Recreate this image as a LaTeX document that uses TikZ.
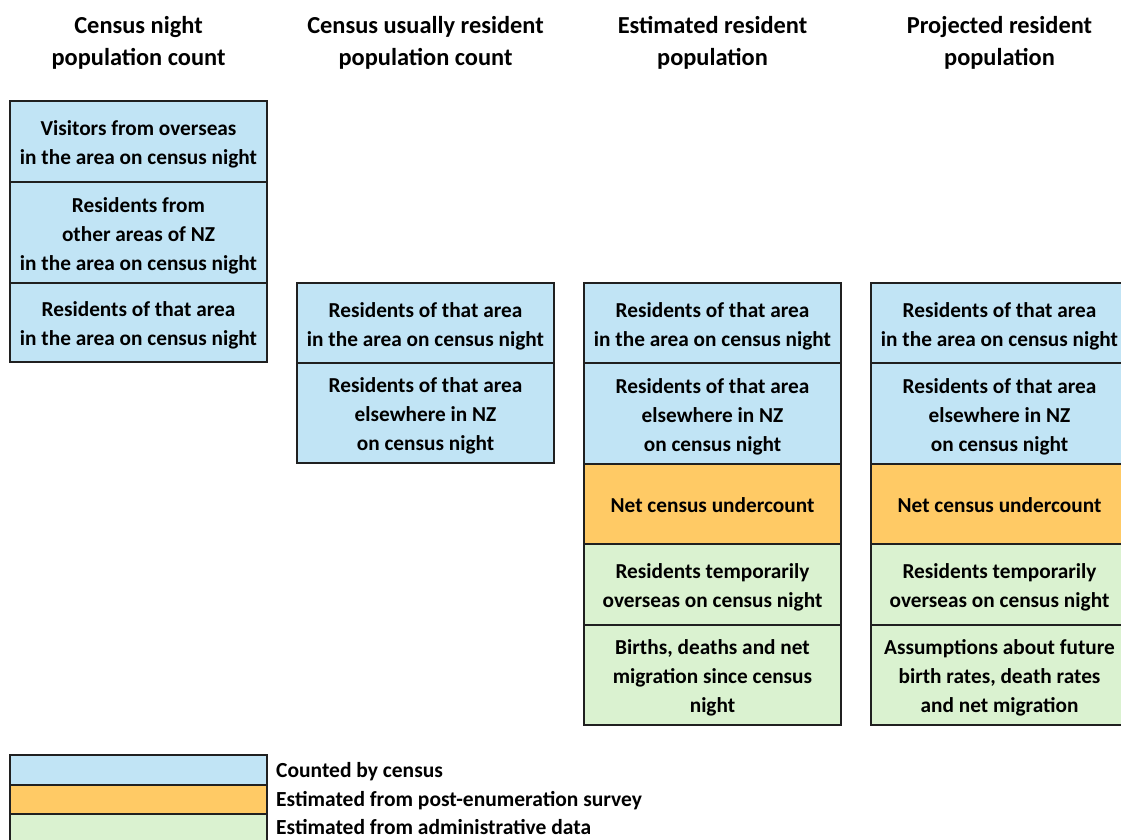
\documentclass[tikz,border=0pt]{standalone}
\usepackage{fontspec}
\setmainfont{Carlito}
\definecolor{cblue}{HTML}{C1E4F5}
\definecolor{corange}{HTML}{FFCA65}
\definecolor{cgreen}{HTML}{DAF2D0}
\definecolor{cline}{HTML}{202020}
\newcommand{\mycell}[7]{%
  \node[cell, fill=#5, minimum height=#4pt] (#1) at (#2,#3) {};
  \node[celltext] (#1t) at ([yshift=-#7pt]#1.center) {#6};}
\begin{document}
\begin{tikzpicture}[x=1pt,y=-1pt,
  cell/.style={draw=cline, line width=1.3pt, minimum width=257pt, inner sep=0pt},
  celltext/.style={inner sep=0pt, align=center,
    font=\bfseries\fontsize{21.3}{29}\selectfont, text=black},
  title/.style={align=center, font=\bfseries\fontsize{24.4}{32}\selectfont, text=black},
  legtext/.style={anchor=west, inner sep=0pt, font=\bfseries\fontsize{21.5}{29}\selectfont, text=black}]
\useasboundingbox (0,0) rectangle (1121,839);
\clip (0,0) rectangle (1121,839);
% titles
\node[title] (t1) at (138.5,42.5) {Census night\\population count};
\node[title] (t2) at (425.5,42.5) {Census usually resident\\population count};
\node[title] (t3) at (712.5,42.5) {Estimated resident\\population};
\node[title] (t4) at (999.5,42.5) {Projected resident\\population};
% column 1
\mycell{a1}{138.5}{141.5}{81}{cblue}{Visitors from overseas\\in the area on census night}{3}
\mycell{a2}{138.5}{232.5}{101}{cblue}{Residents from\\other areas of NZ\\in the area on census night}{3}
\mycell{a3}{138.5}{322.5}{79}{cblue}{Residents of that area\\in the area on census night}{3}
% column 2
\mycell{b1}{425.5}{323}{80}{cblue}{Residents of that area\\in the area on census night}{3}
\mycell{b2}{425.5}{413}{100}{cblue}{Residents of that area\\elsewhere in NZ\\on census night}{3}
% column 3
\mycell{c1}{712.5}{323}{80}{cblue}{Residents of that area\\in the area on census night}{3}
\mycell{c2}{712.5}{413.5}{101}{cblue}{Residents of that area\\elsewhere in NZ\\on census night}{3}
\mycell{c3}{712.5}{504}{80}{corange}{Net census undercount}{1}
\mycell{c4}{712.5}{584.5}{81}{cgreen}{Residents temporarily\\overseas on census night}{3}
\mycell{c5}{712.5}{675}{100}{cgreen}{Births, deaths and net\\migration since census\\night}{3}
% column 4
\mycell{d1}{999.5}{323}{80}{cblue}{Residents of that area\\in the area on census night}{3}
\mycell{d2}{999.5}{413.5}{101}{cblue}{Residents of that area\\elsewhere in NZ\\on census night}{3}
\mycell{d3}{999.5}{504}{80}{corange}{Net census undercount}{1}
\mycell{d4}{999.5}{584.5}{81}{cgreen}{Residents temporarily\\overseas on census night}{3}
\mycell{d5}{999.5}{675}{100}{cgreen}{Assumptions about future\\birth rates, death rates\\and net migration}{3}
% legend
\node[cell, fill=cblue, minimum height=30pt] (l1) at (138.5,770) {};
\node[cell, fill=corange, minimum height=29pt] (l2) at (138.5,799.5) {};
\node[cell, fill=cgreen, minimum height=31pt] (l3) at (138.5,829.5) {};
\node[legtext] (lt1) at (276,771.5) {Counted by census};
\node[legtext] (lt2) at (276,800.5) {Estimated from post-enumeration survey};
\node[legtext] (lt3) at (276,827) {Estimated from administrative data};
\end{tikzpicture}
\end{document}
